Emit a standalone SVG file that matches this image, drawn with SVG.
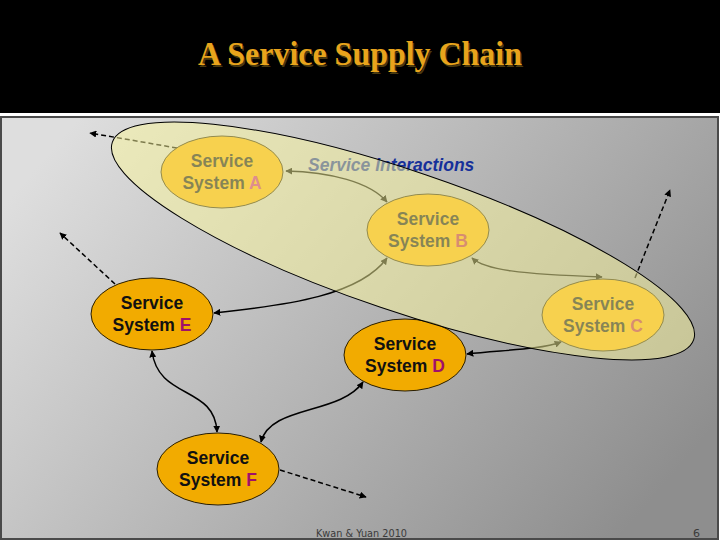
<svg xmlns="http://www.w3.org/2000/svg" width="720" height="540" viewBox="0 0 720 540">
  <defs>
    <linearGradient id="bg" gradientUnits="userSpaceOnUse" x1="80" y1="116" x2="600" y2="560">
      <stop offset="0" stop-color="#dedede"/>
      <stop offset="1" stop-color="#8e8e8e"/>
    </linearGradient>
    <marker id="ah" viewBox="0 0 10 10" refX="9" refY="5" markerWidth="7" markerHeight="7" markerUnits="userSpaceOnUse" orient="auto-start-reverse">
      <path d="M0,0 L10,5 L0,10 Z" fill="#000"/>
    </marker>
    <style>
      .node ellipse { fill: #f2ab00; stroke: #2a1e00; stroke-width: 1; }
      .node text { font-family: "Liberation Sans", Arial, sans-serif; font-size: 17.5px; font-weight: bold; fill: #111; text-anchor: middle; }
      .conn { fill: none; stroke: #000; stroke-width: 1.5; marker-start: url(#ah); marker-end: url(#ah); }
      .dash { fill: none; stroke: #000; stroke-width: 1.5; stroke-dasharray: 5 3; marker-end: url(#ah); }
      .title { font-family: "Liberation Serif", "Times New Roman", serif; font-size: 33px; font-weight: bold; text-anchor: middle; }
    </style>
  </defs>

  <!-- header -->
  <rect x="0" y="0" width="720" height="113" fill="#000"/>
  <text class="title" x="361.5" y="66.5" fill="#4a3a10" textLength="324" lengthAdjust="spacingAndGlyphs">A Service Supply Chain</text>
  <text class="title" x="360" y="65" fill="#e8a41c" textLength="324" lengthAdjust="spacingAndGlyphs">A Service Supply Chain</text>
  <rect x="0" y="113" width="720" height="4" fill="#ffffff"/>

  <!-- panel -->
  <rect x="1" y="117" width="717" height="422" fill="url(#bg)" stroke="#4a4a4a" stroke-width="2"/>

  <!-- connectors -->
  <g id="connectors">
    <path class="conn" d="M286,171 C330,172 370,182 387,202"/>
    <path class="conn" d="M472,258 C485,270 520,274 602,277"/>
    <path class="conn" d="M214,313 C290,305 360,295 387,258"/>
    <path class="conn" d="M467,354 C500,350 540,350 561,342"/>
    <path class="conn" d="M152,351 C158,400 215,385 217,432"/>
    <path class="conn" d="M261,442 C270,405 340,415 363,382"/>
    <path class="dash" d="M177,148 L90,133"/>
    <path class="dash" d="M115,284 L60,233"/>
    <path class="dash" d="M635,278 L670,190"/>
    <path class="dash" d="M280,470 L366,497"/>
  </g>

  <!-- nodes -->
  <g id="nodeA" class="node">
    <ellipse cx="222" cy="172" rx="61" ry="36"/>
    <text x="222" y="167">Service</text>
    <text x="222" y="189">System <tspan fill="#c0247e">A</tspan></text>
  </g>
  <g id="nodeB" class="node">
    <ellipse cx="428" cy="230" rx="61" ry="36"/>
    <text x="428" y="225">Service</text>
    <text x="428" y="247">System <tspan fill="#b22346">B</tspan></text>
  </g>
  <g id="nodeC" class="node">
    <ellipse cx="603" cy="315" rx="61" ry="36"/>
    <text x="603" y="310">Service</text>
    <text x="603" y="332">System <tspan fill="#b22346">C</tspan></text>
  </g>
  <g id="nodeE" class="node">
    <ellipse cx="152" cy="314" rx="61" ry="36"/>
    <text x="152" y="309">Service</text>
    <text x="152" y="331">System <tspan fill="#a0106a">E</tspan></text>
  </g>
  <g id="nodeD" class="node">
    <ellipse cx="405" cy="355" rx="61" ry="36"/>
    <text x="405" y="350">Service</text>
    <text x="405" y="372">System <tspan fill="#a0106a">D</tspan></text>
  </g>
  <g id="nodeF" class="node">
    <ellipse cx="218" cy="469" rx="61" ry="36"/>
    <text x="218" y="464">Service</text>
    <text x="218" y="486">System <tspan fill="#a0106a">F</tspan></text>
  </g>

  <!-- label -->
  <text x="308" y="171" font-family="Liberation Sans, Arial, sans-serif" font-size="17.5" font-weight="bold" font-style="italic" fill="#16309a">Service Interactions</text>

  <!-- translucent grouping ellipse -->
  <g id="group">
    <ellipse cx="403" cy="241" rx="307" ry="70" transform="rotate(18.75 403 241)" fill="rgb(252,248,155)" fill-opacity="0.5" stroke="#000" stroke-width="1"/>
  </g>

  <!-- footer -->
  <text x="316" y="537" font-family="DejaVu Sans, sans-serif" font-size="10.5" fill="#3a3a3a" textLength="91" lengthAdjust="spacingAndGlyphs">Kwan &amp; Yuan 2010</text>
  <text x="693" y="537" font-family="DejaVu Sans, sans-serif" font-size="11" fill="#3a3a3a">6</text>
</svg>
